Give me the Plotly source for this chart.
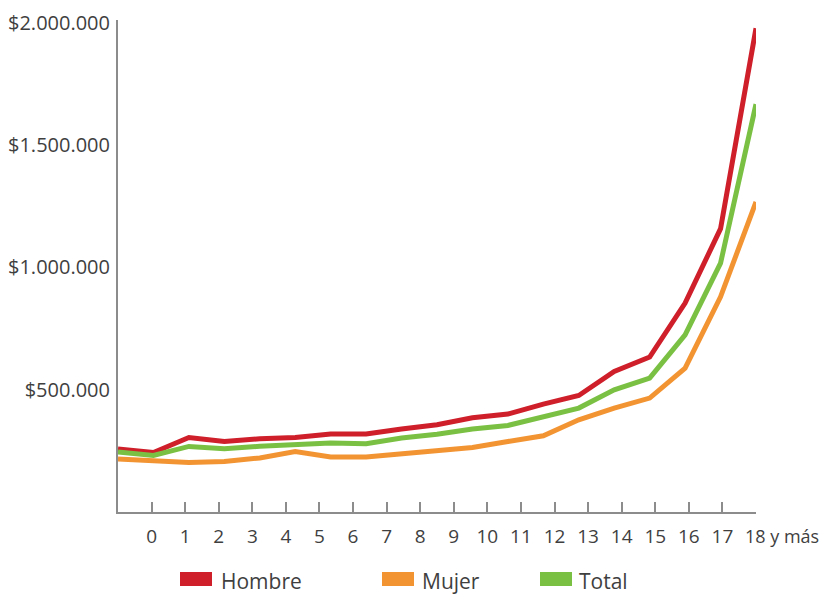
import plotly.graph_objects as go

# ---- data ----
edades = ["0", "1", "2", "3", "4", "5", "6", "7", "8", "9", "10", "11", "12",
          "13", "14", "15", "16", "17", "18 y más"]
hombre = [257500, 243600, 304900, 288500, 299600, 304900, 318800, 318800, 339200,
          356800, 385400, 400500, 441400, 476500, 574600, 633500, 854200, 1158700, 1978000]
mujer = [216600, 209700, 202700, 206800, 221000, 247700, 224800, 224800, 238300,
         254600, 264000, 288500, 311800, 377200, 425000, 465900, 588500, 880000, 1268000]
total = [245200, 231300, 268100, 258700, 268900, 277900, 282000, 279100, 302400,
         318000, 339200, 353900, 388300, 425000, 499800, 547700, 724600, 1017700, 1667900]
series_names = ["Hombre", "Mujer", "Total"]
y_ticks = [500000, 1000000, 1500000, 2000000]
y_tick_labels = ["$500.000", "$1.000.000", "$1.500.000", "$2.000.000"]

colors = ["#CE1F2B", "#F39433", "#7AC143"]
axis_gray = "#8C8C8C"
text_col = "#3F3F3F"
FONT = "Open Sans"

# page body has an 8px margin, so the figure is drawn at (8, 8)
OFF = 8
W, H = 828 - OFF, 594 - OFF
L, R, T, B = 110, 72, 12, 82
PW, PH = W - L - R, H - T - B


def px_x(px):
    return (px - OFF - L) / PW


def px_y(py):
    return (H - B - (py - OFF)) / PH


fig = go.Figure()
for name, vals, col in zip(series_names, [hombre, mujer, total], colors):
    fig.add_trace(go.Scatter(
        x=list(range(len(edades))), y=vals, name=name, mode="lines",
        line=dict(color=col, width=5), showlegend=False,
        hovertemplate="%{text}: %{y:$,.0f}<extra>" + name + "</extra>",
        text=edades,
    ))

# invisible trace to hold the labelled age axis
fig.add_trace(go.Scatter(x=[-1, 18], y=[0, 0], xaxis="x2", mode="lines",
                         line=dict(width=0), showlegend=False, hoverinfo="skip"))

tick_text = edades[:-1] + [""]

fig.update_layout(
    width=W, height=H,
    margin=dict(l=L, r=R, t=T, b=B),
    paper_bgcolor="white", plot_bgcolor="white",
    font=dict(family=FONT, color=text_col, size=19),
    xaxis=dict(range=[0, len(edades) - 1], showticklabels=False, ticks="",
               showgrid=False, zeroline=False, showline=False, automargin=False),
    xaxis2=dict(overlaying="x", anchor="y", side="bottom",
                range=[-1, len(edades) - 1],
                tickmode="array", tickvals=list(range(len(edades))), ticktext=tick_text,
                tickangle=0, automargin=False,
                ticks="inside", ticklen=10, tickwidth=2, tickcolor=axis_gray,
                showline=True, linecolor=axis_gray, linewidth=2,
                showgrid=False, zeroline=False, ticklabelstandoff=6,
                tickfont=dict(family=FONT, size=19, color=text_col)),
    yaxis=dict(range=[0, 2012000], tickmode="array", tickvals=y_ticks,
               ticktext=y_tick_labels, ticks="", showgrid=False, zeroline=False,
               showline=True, linecolor=axis_gray, linewidth=2,
               ticklabelstandoff=2, automargin=False,
               tickfont=dict(family=FONT, size=20, color=text_col)),
)

# last age label: "18" sits on its tick, " y más" runs to the right
fig.add_annotation(xref="x2", yref="paper", x=len(edades) - 1, y=px_y(536),
                   xanchor="left", yanchor="middle", xshift=-13, text=edades[-1],
                   showarrow=False, font=dict(family=FONT, size=18, color=text_col))

# legend drawn as swatches + text
legend_swatch_x = [180, 382, 540]
legend_text_x = [219, 420, 577]
for name, col, sx, tx in zip(series_names, colors, legend_swatch_x, legend_text_x):
    fig.add_shape(type="rect", xref="paper", yref="paper",
                  x0=px_x(sx), x1=px_x(sx + 32), y0=px_y(586), y1=px_y(572),
                  fillcolor=col, line=dict(width=0))
    fig.add_annotation(xref="paper", yref="paper", x=px_x(tx), y=px_y(581),
                       xanchor="left", yanchor="middle", text=name, showarrow=False,
                       font=dict(family=FONT, size=21, color=text_col))

fig.write_html("out.html")
